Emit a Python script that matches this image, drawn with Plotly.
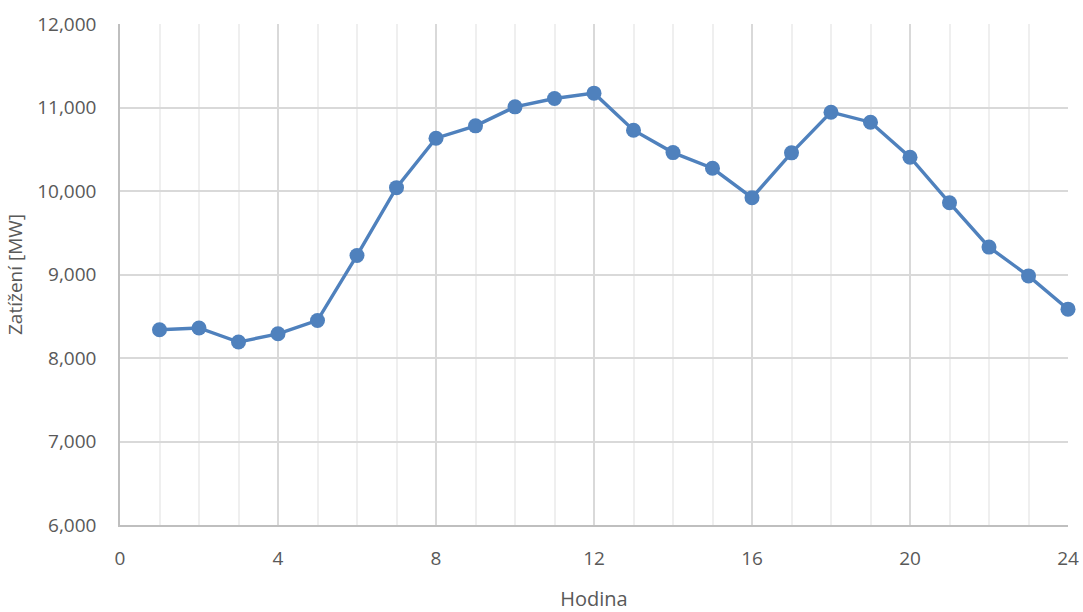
import plotly.graph_objects as go

# Hourly load profile
hours = list(range(1, 25))
load_mw = [8339, 8359, 8191, 8290, 8450, 9228, 10040, 10632, 10780, 11008, 11108, 11172,
           10728, 10460, 10272, 9920, 10457, 10944, 10824, 10405, 9859, 9328, 8983, 8585]

x_ticks = [0, 4, 8, 12, 16, 20, 24]
y_ticks = [6000, 7000, 8000, 9000, 10000, 11000, 12000]

line_color = "#4F81BD"
text_color = "#595959"
font_family = "Open Sans, Liberation Sans, sans-serif"

fig = go.Figure()
fig.add_trace(go.Scatter(
    x=hours, y=load_mw,
    mode="lines+markers",
    line=dict(color=line_color, width=3.4),
    marker=dict(color=line_color, size=15),
    cliponaxis=False,
    showlegend=False,
))

fig.update_layout(
    width=1083, height=612,
    margin=dict(l=120, r=15, t=24, b=87, autoexpand=False),
    paper_bgcolor="white",
    plot_bgcolor="white",
    font=dict(family=font_family, color=text_color, size=19),
    xaxis=dict(
        range=[0, 24],
        tickvals=x_ticks,
        ticktext=[str(v) for v in x_ticks],
        showgrid=True, gridcolor="#D9D9D9", gridwidth=1.5,
        minor=dict(dtick=1, tick0=0, showgrid=True, gridcolor="#EFEFEF", gridwidth=1.5),
        showline=True, linecolor="#BFBFBF", linewidth=1.5,
        zeroline=False, automargin=False,
        ticks="", ticklabelstandoff=15,
        title=dict(text="Hodina", font=dict(size=20, color=text_color), standoff=29),
    ),
    yaxis=dict(
        range=[6000, 12000],
        tickvals=y_ticks,
        tickformat=",",
        showgrid=True, gridcolor="#D9D9D9", gridwidth=1.5,
        showline=True, linecolor="#BFBFBF", linewidth=1.5,
        zeroline=False, automargin=False,
        ticks="", ticklabelstandoff=18,
        title=dict(text="Zatížení [MW]", font=dict(size=19, color=text_color), standoff=10),
    ),
)

fig.write_html("out.html")
